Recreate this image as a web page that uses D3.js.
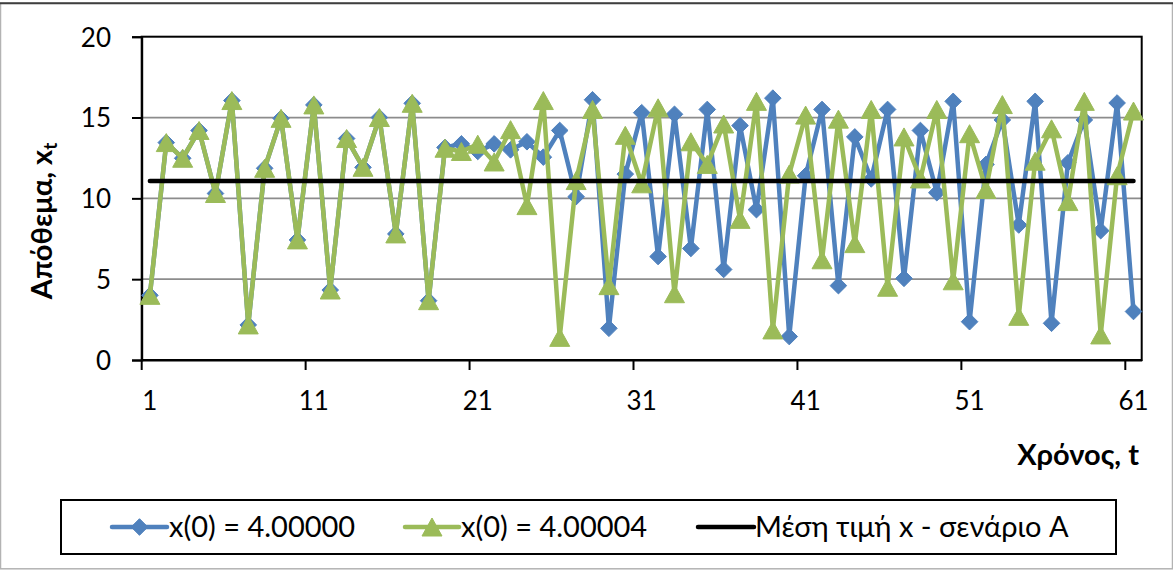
<!DOCTYPE html>
<html>
<head>
<meta charset="utf-8">
<script src="https://cdn.jsdelivr.net/npm/d3@7"></script>
<style>
html,body{margin:0;padding:0;background:#fff;}
svg{display:block;font-family:Lato,"Open Sans",sans-serif;}
</style>
</head>
<body>
<svg id="chart" width="1173" height="570"></svg>
<script>
// ---------- data ----------
const timeSteps = [1,2,3,4,5,6,7,8,9,10,11,12,13,14,15,16,17,18,19,20,21,22,23,24,25,26,27,28,29,30,
  31,32,33,34,35,36,37,38,39,40,41,42,43,44,45,46,47,48,49,50,51,52,53,54,55,56,57,58,59,60,61];
const seriesA = [4.0,13.45,12.48,14.2,10.3,16.05,2.17,11.86,14.95,7.43,15.78,4.33,13.7,11.92,15.0,7.8,15.88,3.67,13.15,13.37,
  12.9,13.37,13.0,13.5,12.55,14.2,10.1,16.1,1.96,11.5,15.3,6.4,15.2,6.9,15.5,5.6,14.5,9.3,16.2,1.45,
  11.4,15.5,4.6,13.8,11.2,15.5,5.05,14.2,10.35,16.0,2.37,12.1,14.85,8.35,16.0,2.27,12.2,14.85,8.0,15.9,3.0];
const seriesB = [4.0,13.45,12.48,14.2,10.3,16.05,2.17,11.86,14.95,7.43,15.78,4.33,13.7,11.92,15.0,7.8,15.88,3.67,13.1,12.9,
  13.35,12.25,14.25,9.55,16.05,1.4,11.1,15.5,4.6,13.9,10.9,15.6,4.1,13.5,12.1,14.6,8.7,16.0,1.86,11.5,
  15.15,6.2,14.9,7.2,15.5,4.5,13.8,11.2,15.5,4.9,14.0,10.55,15.8,2.7,12.3,14.3,9.8,16.0,1.55,11.4,15.4];
const meanValue = 11.07;
const seriesNames = ["x(0) = 4.00000", "x(0) = 4.00004", "Μέση τιμή x - σενάριο A"];
const xTickLabels = [1,11,21,31,41,51,61];
const yTickValues = [0,5,10,15,20];
const yTitleMain = "Απόθεμα, x";
const yTitleSub = "t";
const xTitle = "Χρόνος, t";

// ---------- styles ----------
const BLUE = "#4F81BD", GREEN = "#9BBB59";
const svg = d3.select("#chart");
const W = 1173, H = 570;
const plot = {left: 141.7, right: 1141.7, top: 36.7, bottom: 360};

svg.append("rect").attr("x",0).attr("y",0).attr("width",W).attr("height",H).attr("fill","#fff");
// outer chart border
svg.append("rect").attr("x",0.5).attr("y",3.3).attr("width",W-1).attr("height",565.5)
  .attr("fill","none").attr("stroke","#b3b3b3").attr("stroke-width",1.5);
svg.append("line").attr("x1",0).attr("x2",W).attr("y1",3.3).attr("y2",3.3)
  .attr("stroke","#3f3f3f").attr("stroke-width",2);

// ---------- scales ----------
const x = d3.scaleBand().domain(timeSteps).range([plot.left, plot.right]).padding(0);
const cx = t => x(t) + x.bandwidth()/2;
const y = d3.scaleLinear().domain([0,20]).range([plot.bottom, plot.top]);

// gridlines
svg.append("g").selectAll("line").data(yTickValues.filter(v => v > 0 && v < 20)).join("line")
  .attr("x1", plot.left).attr("x2", plot.right)
  .attr("y1", d => y(d)).attr("y2", d => y(d))
  .attr("stroke","#8c8c8c").attr("stroke-width",1.75);

// plot border
svg.append("rect").attr("x",plot.left).attr("y",plot.top)
  .attr("width",plot.right-plot.left).attr("height",plot.bottom-plot.top)
  .attr("fill","none").attr("stroke","#000").attr("stroke-width",2);

// y axis
const yAxis = svg.append("g").attr("transform",`translate(${plot.left},0)`)
  .call(d3.axisLeft(y).tickValues(yTickValues).tickSize(9.7).tickPadding(21).tickFormat(d3.format("d")));
yAxis.select(".domain").attr("stroke","#000").attr("stroke-width",2);
yAxis.selectAll(".tick line").attr("stroke","#000").attr("stroke-width",2);
yAxis.selectAll(".tick text").attr("font-size",26).attr("font-family","Lato").attr("fill","#000").attr("dy","0.36em");

// x axis: labels at category centres, ticks at category boundaries
const xAxis = svg.append("g").attr("transform",`translate(0,${plot.bottom})`)
  .call(d3.axisBottom(x).tickValues(xTickLabels).tickSize(0).tickPadding(31.5));
xAxis.select(".domain").attr("stroke","#000").attr("stroke-width",2);
xAxis.selectAll(".tick text").attr("font-size",26).attr("font-family","Lato").attr("fill","#000");
svg.append("g").selectAll("line").data(xTickLabels).join("line")
  .attr("x1", d => x(d)).attr("x2", d => x(d))
  .attr("y1", plot.bottom).attr("y2", plot.bottom + 10)
  .attr("stroke","#000").attr("stroke-width",2);

// ---------- series ----------
const diamond = "M0,-8.3L8.3,0L0,8.3L-8.3,0Z";
const triangle = "M0,-9L10,9L-10,9Z";
const line = d3.line().x((d,i) => cx(timeSteps[i])).y(d => y(d));

function drawSeries(values, color, shape) {
  const g = svg.append("g");
  g.append("path").datum(values).attr("d", line)
    .attr("fill","none").attr("stroke",color).attr("stroke-width",4.5)
    .attr("stroke-linejoin","round").attr("stroke-linecap","round");
  g.selectAll("path.m").data(values).join("path").attr("class","m")
    .attr("d", shape)
    .attr("transform",(d,i) => `translate(${cx(timeSteps[i])},${y(d)})`)
    .attr("fill",color).attr("stroke",color).attr("stroke-width",1);
}
drawSeries(seriesA, BLUE, diamond);
drawSeries(seriesB, GREEN, triangle);

// mean line
svg.append("line")
  .attr("x1", cx(timeSteps[0])).attr("x2", cx(timeSteps[timeSteps.length-1]))
  .attr("y1", y(meanValue)).attr("y2", y(meanValue))
  .attr("stroke","#000").attr("stroke-width",4.5).attr("stroke-linecap","round");

// ---------- axis titles ----------
const yt = svg.append("text")
  .attr("transform","translate(52,221) rotate(-90)")
  .attr("text-anchor","middle").attr("font-weight","bold").attr("font-size",29).attr("fill","#000");
yt.append("tspan").text(yTitleMain);
yt.append("tspan").attr("font-size",19).attr("dy",5).text(yTitleSub);

svg.append("text").attr("x",1139).attr("y",465).attr("text-anchor","end")
  .attr("font-weight","bold").attr("font-size",29).attr("fill","#000").text(xTitle);

// ---------- legend ----------
svg.append("rect").attr("x",61).attr("y",500).attr("width",1055).attr("height",54)
  .attr("fill","#fff").attr("stroke","#000").attr("stroke-width",2);
const legendItems = [
  {name: seriesNames[0], color: BLUE, shape: diamond, x0: 112, x1: 167, tx: 169},
  {name: seriesNames[1], color: GREEN, shape: triangle, x0: 405, x1: 459, tx: 461},
  {name: seriesNames[2], color: "#000", shape: null, x0: 698, x1: 754, tx: 755}
];
const ly = 527;
legendItems.forEach(it => {
  svg.append("line").attr("x1",it.x0).attr("x2",it.x1).attr("y1",ly).attr("y2",ly)
    .attr("stroke",it.color).attr("stroke-width",4.5).attr("stroke-linecap","round");
  if (it.shape) {
    svg.append("path").attr("d",it.shape)
      .attr("transform",`translate(${(it.x0+it.x1)/2},${ly})`)
      .attr("fill",it.color).attr("stroke",it.color).attr("stroke-width",1);
  }
  svg.append("text").attr("x",it.tx).attr("y",537).attr("font-size",29).attr("fill","#000").text(it.name);
});
</script>
</body>
</html>
